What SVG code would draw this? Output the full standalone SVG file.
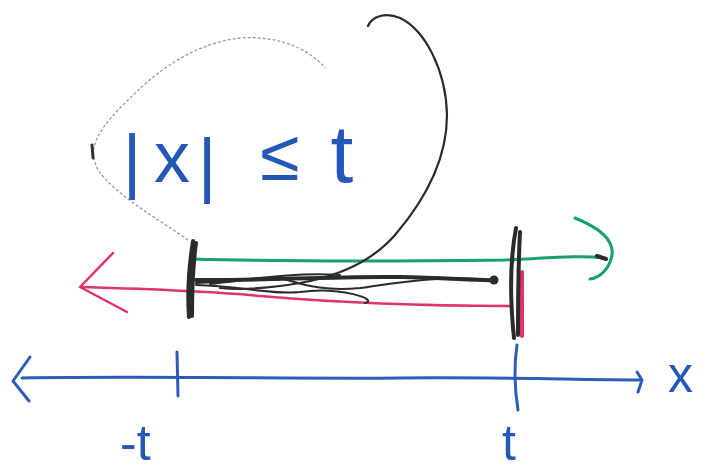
<svg xmlns="http://www.w3.org/2000/svg" width="708" height="473" viewBox="0 0 708 473">
<style>
.blue{fill:#2557b8;font-family:"Liberation Sans",Arial,sans-serif}
.bl{stroke:#2a5cb8;stroke-width:3;fill:none;stroke-linecap:round;stroke-linejoin:round}
.ink{stroke:#2b2b2b;fill:none;stroke-linecap:round;stroke-linejoin:round}
.grn{stroke:#16a06a;stroke-width:3;fill:none;stroke-linecap:round;stroke-linejoin:round}
.red{stroke:#e03368;stroke-width:2.5;fill:none;stroke-linecap:round;stroke-linejoin:round}
</style>
<rect width="708" height="473" fill="#ffffff"/>
<g id="faint-loop">
<path d="M188 240 C160 220 115 195 98 170 C88 150 95 135 118 110 C140 88 180 45 240 38 C280 35 310 50 325 68" stroke="#9a9a9a" stroke-width="1.3" stroke-dasharray="3 2" fill="none"/>
<path d="M92 145 L93 158" stroke="#333" stroke-width="3" stroke-linecap="round"/>
</g>
<g id="axis">
<path class="bl" d="M22 378 C150 376 300 379 400 378 C500 377 580 380 640 380"/>
<path class="bl" d="M30 357 L13 381 L29 401"/>
<path class="bl" d="M637 372 L642 380 L638 392"/>
<path class="bl" d="M177 352 L178 396"/>
<path class="bl" d="M517 345 C514 365 514 385 518 410"/>
</g>
<g id="labels">
<text class="blue" font-size="72" text-anchor="middle"><tspan x="132" y="185">|</tspan><tspan x="172" y="182">x</tspan><tspan x="207" y="189">|</tspan><tspan x="280" y="180">≤</tspan></text>
<text class="blue" font-size="82" text-anchor="middle" x="342" y="182">t</text>
<text class="blue" font-size="50" x="120" y="460">-t</text>
<text class="blue" font-size="50" x="502" y="460">t</text>
<text class="blue" font-size="50" x="668" y="392">x</text>
</g>
<g id="red-arrow">
<path class="red" d="M510 306 C420 306 330 302 260 296 C220 292 150 289 82 287"/>
<path class="red" d="M113 253 L80 287 L127 312"/>
<path d="M522 272 L522 336" stroke="#e03368" stroke-width="4" stroke-linecap="round"/>
</g>
<g id="green-arrow">
<path class="grn" d="M192 259 C300 262 420 261 505 260 C550 258 580 255 604 258"/>
<path class="grn" d="M575 218 C600 228 614 240 612 255 C610 268 600 278 590 279"/>
<path d="M597 256 L606 259" stroke="#2b2b2b" stroke-width="4" stroke-linecap="round"/>
</g>
<g id="black-strokes">
<path class="ink" stroke-width="4" d="M193 241 C190 260 187 290 189 317 M196 243 C193 265 192 295 192 316"/>
<path class="ink" stroke-width="4" d="M516 228 C510 260 510 300 514 338 M520 232 C518 270 518 305 518 335"/>
<path class="ink" stroke-width="4" d="M196 280 C260 281 330 276 400 277 C450 278 480 281 496 280"/>
<circle cx="494" cy="280" r="4.5" fill="#2b2b2b"/>
<path class="ink" stroke-width="2" d="M196 283 C240 282 260 275 280 278 C300 283 320 292 360 288 C390 284 430 276 480 279"/>
<path class="ink" stroke-width="2" d="M196 285 C240 286 270 295 300 292 C340 286 380 300 365 303"/>
<path class="ink" stroke-width="2" d="M210 284 C250 280 290 272 340 275"/>
<path class="ink" stroke-width="2.2" d="M368 26 C372 16 386 12 400 18 C425 30 446 70 447 115 C447 160 425 200 395 235 C375 258 345 275 300 283 C270 288 240 290 220 288"/>
</g>
</svg>
